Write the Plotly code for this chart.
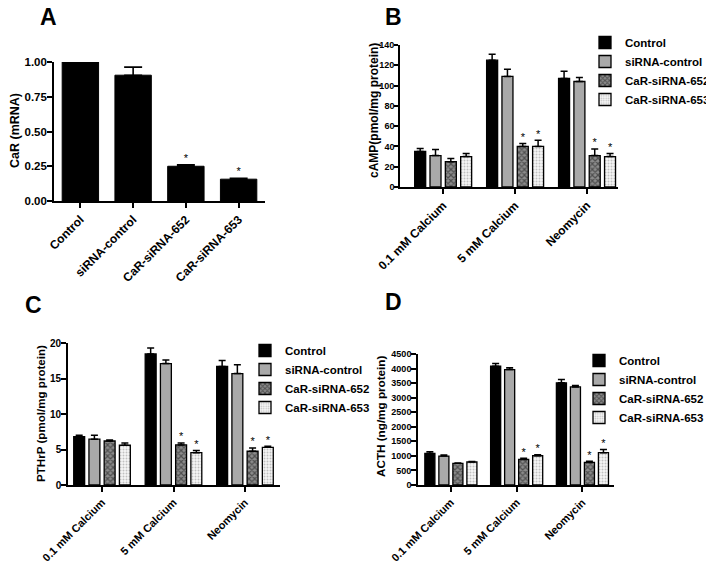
import plotly.graph_objects as go

# ---------------- data ----------------
a_categories = ["Control", "siRNA-control", "CaR-siRNA-652", "CaR-siRNA-653"]
a_values = [1.00, 0.905, 0.25, 0.157]
a_errors = [0.0, 0.058, 0.01, 0.007]
a_sig = [False, False, True, True]

series_names = ["Control", "siRNA-control", "CaR-siRNA-652", "CaR-siRNA-653"]
group_labels = ["0.1 mM Calcium", "5 mM Calcium", "Neomycin"]

camp_values = [[35, 125, 107], [31, 109, 104], [25, 40, 31], [30, 40, 30]]
camp_errors = [[3, 6, 7], [6, 7, 4], [3, 3, 6.5], [3, 6, 3]]
camp_sig = [[False, False, False], [False, False, False], [False, True, True], [False, True, True]]

pthrp_values = [[6.8, 18.45, 16.7], [6.45, 17.1, 15.7], [6.2, 5.65, 4.75], [5.6, 4.55, 5.3]]
pthrp_errors = [[0.2, 0.85, 0.85], [0.55, 0.5, 1.25], [0.15, 0.25, 0.45], [0.3, 0.3, 0.15]]
pthrp_sig = [[False, False, False], [False, False, False], [False, True, True], [False, True, True]]

acth_values = [[1085, 4080, 3510], [995, 3965, 3370], [745, 880, 777], [790, 1005, 1110]]
acth_errors = [[60, 90, 110], [35, 60, 45], [15, 35, 35], [15, 35, 110]]
acth_sig = [[False, False, False], [False, False, False], [False, True, True], [False, True, True]]

a_ticks = [0.0, 0.25, 0.5, 0.75, 1.0]
camp_ticks = [0, 20, 40, 60, 80, 100, 120, 140]
pthrp_ticks = [0, 5, 10, 15, 20]
acth_ticks = [0, 500, 1000, 1500, 2000, 2500, 3000, 3500, 4000, 4500]

y_titles = ["CaR (mRNA)", "cAMP(pmol/mg protein)", "PTHrP (pmol/mg protein)", "ACTH (ng/mg protein)"]
panel_letters = ["A", "B", "C", "D"]

# ---------------- styles / layout helpers ----------------
FONT = "Arial, 'Liberation Sans', sans-serif"
OFF = 8                     # page body margin
FW, FH = 714 - OFF, 564 - OFF
BAR_W = 0.153
PITCH = 0.213


def fx(x):
    return (x - OFF) / FW


def fy(y):
    return 1 - (y - OFF) / FH


def dom_x(x0, x1):
    return [fx(x0), fx(x1)]


def dom_y(top, bottom):
    return [fy(bottom), fy(top)]


series_style = [
    dict(color="black"),
    dict(color="#a9a9a9"),
    dict(color="#777777", pattern=dict(shape="x", fgcolor="#111111", bgcolor="#8c8c8c", size=4, solidity=0.5)),
    dict(color="white", pattern=dict(shape=".", fgcolor="#8a8a8a", bgcolor="#f6f6f6", size=3, solidity=0.35)),
]

fig = go.Figure()

# ---------------- Panel A ----------------
xa = list(range(len(a_categories)))
fig.add_trace(go.Bar(
    x=xa, y=a_values, width=0.69, xaxis="x", yaxis="y",
    marker=dict(color="black", line=dict(color="black", width=1)),
    error_y=dict(type="data", array=a_errors, arrayminus=[0] * 4, symmetric=False,
                 color="black", thickness=1.6, width=9),
    showlegend=False, hoverinfo="skip",
))
ast_x = [x for x, s in zip(xa, a_sig) if s]
ast_y = [v + e for v, e, s in zip(a_values, a_errors, a_sig) if s]
fig.add_trace(go.Scatter(
    x=ast_x, y=ast_y, mode="text", text=["*"] * len(ast_x), textposition="top center",
    textfont=dict(family=FONT, size=11, color="black"), xaxis="x", yaxis="y",
    showlegend=False, hoverinfo="skip", cliponaxis=False,
))

# ---------------- grouped panels ----------------
panels = [
    ("x2", "y2", "legend", camp_values, camp_errors, camp_sig),
    ("x3", "y3", "legend2", pthrp_values, pthrp_errors, pthrp_sig),
    ("x4", "y4", "legend3", acth_values, acth_errors, acth_sig),
]
for xax, yax, leg, vals, errs, sigs in panels:
    for i, name in enumerate(series_names):
        off = (i - 1.5) * PITCH
        xs = [g + off for g in range(len(group_labels))]
        st = series_style[i]
        marker = dict(color=st["color"], line=dict(color="black", width=1.3))
        if "pattern" in st:
            marker["pattern"] = st["pattern"]
        fig.add_trace(go.Bar(
            x=xs, y=vals[i], width=BAR_W, name=name, xaxis=xax, yaxis=yax, legend=leg,
            marker=marker,
            error_y=dict(type="data", array=errs[i], arrayminus=[0] * 3, symmetric=False,
                         color="black", thickness=1.5, width=3.5),
            hoverinfo="skip",
        ))
        sx = [x for x, s in zip(xs, sigs[i]) if s]
        sy = [v + e for v, e, s in zip(vals[i], errs[i], sigs[i]) if s]
        if sx:
            fig.add_trace(go.Scatter(
                x=sx, y=sy, mode="text", text=["*"] * len(sx), textposition="top center",
                textfont=dict(family=FONT, size=11, color="black"), xaxis=xax, yaxis=yax,
                showlegend=False, hoverinfo="skip", cliponaxis=False,
            ))

axis_common = dict(showline=True, linecolor="black", linewidth=1.6, ticks="outside",
                   tickcolor="black", tickwidth=1.6, ticklen=5, showgrid=False, zeroline=False,
                   automargin=False)


def bold(size):
    return dict(size=size, family=FONT, weight="bold", color="black")


leg_common = dict(xanchor="left", yanchor="top", font=bold(11.5), bgcolor="rgba(0,0,0,0)",
                  tracegroupgap=0, itemwidth=30)

fig.update_layout(
    width=FW, height=FH, margin=dict(l=0, r=0, t=0, b=0, autoexpand=False),
    plot_bgcolor="white", paper_bgcolor="white", barmode="overlay",
    font=dict(family=FONT, color="black"),
    xaxis=dict(domain=dom_x(54, 265), anchor="y", range=[-0.5, 3.5],
               tickvals=xa, ticktext=a_categories, tickangle=-45,
               tickfont=bold(12), **axis_common),
    yaxis=dict(domain=dom_y(62, 201), anchor="x", range=[0, 1.0],
               tickvals=a_ticks, ticktext=[f"{t:.2f}" for t in a_ticks],
               tickfont=bold(11.5), ticklabelstandoff=-2, **axis_common),
    xaxis2=dict(domain=dom_x(400, 618), anchor="y2", range=[-0.6, 2.43],
                tickvals=[0, 1, 2], ticktext=group_labels, tickangle=-45,
                tickfont=bold(12), **axis_common),
    yaxis2=dict(domain=dom_y(45, 187), anchor="x2", range=[0, 140],
                tickvals=camp_ticks, tickfont=bold(9), ticklabelstandoff=-2,
                **{**axis_common, "ticklen": 4}),
    xaxis3=dict(domain=dom_x(68, 280), anchor="y3", range=[-0.476, 2.49],
                tickvals=[0, 1, 2], ticktext=group_labels, tickangle=-45,
                tickfont=bold(11), **axis_common),
    yaxis3=dict(domain=dom_y(343, 485), anchor="x3", range=[0, 20],
                tickvals=pthrp_ticks, tickfont=bold(10), ticklabelstandoff=-2, **axis_common),
    xaxis4=dict(domain=dom_x(418, 614), anchor="y4", range=[-0.5, 2.48],
                tickvals=[0, 1, 2], ticktext=group_labels, tickangle=-45,
                tickfont=bold(11), **axis_common),
    yaxis4=dict(domain=dom_y(354, 485), anchor="x4", range=[0, 4500],
                tickvals=acth_ticks, tickfont=bold(9), ticklabelstandoff=-2, **axis_common),
    legend=dict(x=fx(585), y=fy(28), **leg_common),
    legend2=dict(x=fx(245), y=fy(336), **leg_common),
    legend3=dict(x=fx(579), y=fy(346), **leg_common),
)

# panel letters
letter_pos = [(48, 17), (393, 17), (33, 305), (393, 302)]
for txt, (x, y) in zip(panel_letters, letter_pos):
    fig.add_annotation(text=txt, x=fx(x), y=fy(y), xref="paper", yref="paper",
                       showarrow=False, xanchor="center", yanchor="middle",
                       font=bold(23))

# y-axis titles
title_pos = [(15, 131, 12.5), (374, 111, 12), (40, 414, 11.6), (380, 416, 11.7)]
for txt, (x, y, s) in zip(y_titles, title_pos):
    fig.add_annotation(text=txt, x=fx(x), y=fy(y), xref="paper", yref="paper",
                       showarrow=False, xanchor="center", yanchor="middle", textangle=-90,
                       font=bold(s))

fig.write_html("out.html")
